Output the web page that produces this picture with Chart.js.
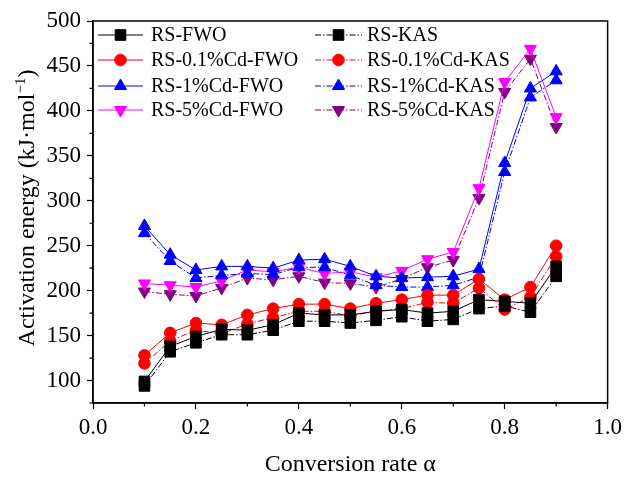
<!DOCTYPE html>
<html><head><meta charset="utf-8">
<script src="https://cdn.jsdelivr.net/npm/chart.js@4/dist/chart.umd.min.js"></script>
<style>html,body{margin:0;padding:0;background:#fff;}#wrap{width:627px;height:479px;position:relative;}</style>
</head><body><div id="wrap"><canvas id="c" width="627" height="479"></canvas></div>
<script>
// ---- data ----
const conversion = [0.1,0.15,0.2,0.25,0.3,0.35,0.4,0.45,0.5,0.55,0.6,0.65,0.7,0.75,0.8,0.85,0.9];
const rsFWO   = [99,138,149,157,156,162,175,173,173,177,179,175,177,190,188,186,227];
const rsKAS   = [94,132,142,151,151,156,166,166,164,167,171,166,168,180,183,176,216];
const cd01FWO = [128,153,164,162,173,180,185,185,180,186,190,195,195,213,190,204,250];
const cd01KAS = [119,144,156,152,163,170,177,177,172,177,180,187,186,203,179,193,238];
const cd1FWO  = [272,240,223,227,227,225,234,235,227,216,214,215,216,224,342,425,444];
const cd1KAS  = [264,233,214,217,219,218,226,226,217,206,204,204,206,215,332,415,434];
const cd5FWO  = [208,206,204,211,223,221,226,219,221,215,222,235,243,314,432,469,393];
const cd5KAS  = [199,196,194,203,214,212,216,209,208,204,213,226,234,303,421,458,382];
const fwoLabels = ['RS-FWO','RS-0.1%Cd-FWO','RS-1%Cd-FWO','RS-5%Cd-FWO'];
const kasLabels = ['RS-KAS','RS-0.1%Cd-KAS','RS-1%Cd-KAS','RS-5%Cd-KAS'];
const xTickLabels = ['0.0','0.2','0.4','0.6','0.8','1.0'];
const yTickLabels = ['100','150','200','250','300','350','400','450','500'];
const xTitle = 'Conversion rate α';
const yTitleMain = 'Activation energy (kJ·mol';
const yTitleSup = '−1';
const yTitleEnd = ')';

// ---- styles ----
const fwoColors = ['#000000','#FF0000','#0000FF','#FF00FF'];
const kasColors = ['#000000','#FF0000','#0000FF','#800080'];
const styles = [
  {pointStyle:'rect', radius:7.5, rotation:0},
  {pointStyle:'circle', radius:5.8, rotation:0},
  {pointStyle:'triangle', radius:7, rotation:0},
  {pointStyle:'triangle', radius:7, rotation:180}
];
const dashDot = [6,2,1.5,2];
const fwoSeries = [rsFWO, cd01FWO, cd1FWO, cd5FWO];
const kasSeries = [rsKAS, cd01KAS, cd1KAS, cd5KAS];

function toPts(arr){ return conversion.map((x,i)=>({x:x,y:arr[i]})); }
function ds(label, arr, color, st, dash){
  return {label, data: toPts(arr), borderColor: color, backgroundColor: color,
    borderWidth: 1, borderDash: dash, pointStyle: st.pointStyle, pointRadius: st.radius,
    pointHoverRadius: st.radius, pointRotation: st.rotation, pointBackgroundColor: color,
    pointBorderColor: color, pointBorderWidth: 1, tension: 0, clip: false};
}
const datasets = [];
for (let i=0;i<4;i++){
  datasets.push(ds(fwoLabels[i], fwoSeries[i], fwoColors[i], styles[i], []));
  datasets.push(ds(kasLabels[i], kasSeries[i], kasColors[i], styles[i], dashDot));
}

const SERIF = "'Liberation Serif','Times New Roman',serif";
Chart.defaults.font.family = SERIF;
Chart.defaults.color = '#000';

function isMajorX(v){ return Math.round(v*10) % 2 === 0; }
function isMajorY(v){ return Math.round(v) % 50 === 0; }

const framePlugin = {
  id:'frame',
  afterDatasetsDraw(chart){
    const {ctx} = chart;
    ctx.save();
    ctx.font = "20px " + SERIF;
    ctx.textBaseline = 'middle';
    ctx.textAlign = 'left';
    const rows = [35,60,86,110];
    const cols = [{x0:98,x1:143,tx:151,labels:fwoLabels,colors:fwoColors,dash:[]},
                  {x0:315,x1:362,tx:367,labels:kasLabels,colors:kasColors,dash:dashDot}];
    cols.forEach(c=>{
      for(let i=0;i<4;i++){
        const yy = rows[i];
        ctx.strokeStyle = c.colors[i]; ctx.fillStyle = c.colors[i];
        ctx.lineWidth = 1; ctx.setLineDash(c.dash);
        ctx.beginPath(); ctx.moveTo(c.x0,yy); ctx.lineTo(c.x1,yy); ctx.stroke();
        ctx.setLineDash([]);
        Chart.helpers.drawPoint(ctx, {pointStyle:styles[i].pointStyle, radius:styles[i].radius, rotation:styles[i].rotation, borderWidth:1}, (c.x0+c.x1)/2, yy);
        ctx.fillStyle = '#000';
        ctx.fillText(c.labels[i], c.tx, yy+1);
      }
    });
    ctx.restore();
  },
  afterDraw(chart){
    const {ctx, chartArea:a, scales:{x,y}} = chart;
    ctx.save();
    ctx.strokeStyle = '#000'; ctx.lineWidth = 1.5; ctx.setLineDash([]);
    ctx.strokeRect(a.left, a.top, a.right-a.left, a.bottom-a.top);
    ctx.lineWidth = 1.2;
    ctx.beginPath();
    x.ticks.forEach(t=>{ if(!isMajorX(t.value)){ const p=x.getPixelForValue(t.value); ctx.moveTo(p,a.bottom); ctx.lineTo(p,a.bottom+3.5);} });
    y.ticks.forEach(t=>{ if(!isMajorY(t.value)){ const p=y.getPixelForValue(t.value); ctx.moveTo(a.left,p); ctx.lineTo(a.left-3.5,p);} });
    ctx.stroke();
    // y axis title with real superscript
    const big = "24px 'Liberation Serif'", small = "15px 'Liberation Serif'";
    ctx.font = big; const w1 = ctx.measureText(yTitleMain).width; const w3 = ctx.measureText(yTitleEnd).width;
    ctx.font = small; const w2 = ctx.measureText(yTitleSup).width;
    const total = w1 + w2 + w3;
    const cy = (a.top + a.bottom)/2 - 4;
    ctx.translate(28, cy);
    ctx.rotate(-Math.PI/2);
    ctx.fillStyle = '#000';
    ctx.textBaseline = 'middle'; ctx.textAlign = 'left';
    let cx = -total/2;
    ctx.font = big; ctx.fillText(yTitleMain, cx, 0); cx += w1;
    ctx.font = small; ctx.fillText(yTitleSup, cx, -7); cx += w2;
    ctx.font = big; ctx.fillText(yTitleEnd, cx, 0);
    ctx.restore();
  }
};

new Chart(document.getElementById('c'), {
  type:'line',
  data:{datasets},
  options:{
    responsive:false, animation:false, devicePixelRatio:1,
    layout:{padding:{top:21,right:14,left:0,bottom:0}},
    plugins:{legend:{display:false}, tooltip:{enabled:false}},
    scales:{
      x:{type:'linear', min:0, max:1,
        afterFit(s){ s.height = 76; },
        border:{display:true,color:'#000',width:1.5},
        grid:{drawOnChartArea:false, drawTicks:true, tickLength:6, tickWidth:1.2,
              tickColor:(c)=> (c.tick && isMajorX(c.tick.value)) ? '#000' : 'rgba(0,0,0,0)'},
        ticks:{stepSize:0.1, autoSkip:false, maxRotation:0, padding:5, color:'#000',
               font:{size:23, family:SERIF},
               callback:(v)=>{ const k=Math.round(v*10); return k%2===0 ? xTickLabels[k/2] : ''; }},
        title:{display:true, text:xTitle, color:'#000',
               font:{size:24, family:SERIF}, padding:{top:0,bottom:0}}
      },
      y:{type:'linear', min:75, max:500,
        afterFit(s){ s.width = 93; },
        border:{display:true,color:'#000',width:1.5},
        grid:{drawOnChartArea:false, drawTicks:true, tickLength:6, tickWidth:1.2,
              tickColor:(c)=> (c.tick && isMajorY(c.tick.value)) ? '#000' : 'rgba(0,0,0,0)'},
        ticks:{stepSize:25, autoSkip:false, padding:6, color:'#000',
               font:{size:23, family:SERIF},
               callback:(v)=>{ const r=Math.round(v); return (r%50===0 && r>=100) ? yTickLabels[(r-100)/50] : ''; }},
        title:{display:false}
      }
    }
  },
  plugins:[framePlugin]
});
</script></body></html>
